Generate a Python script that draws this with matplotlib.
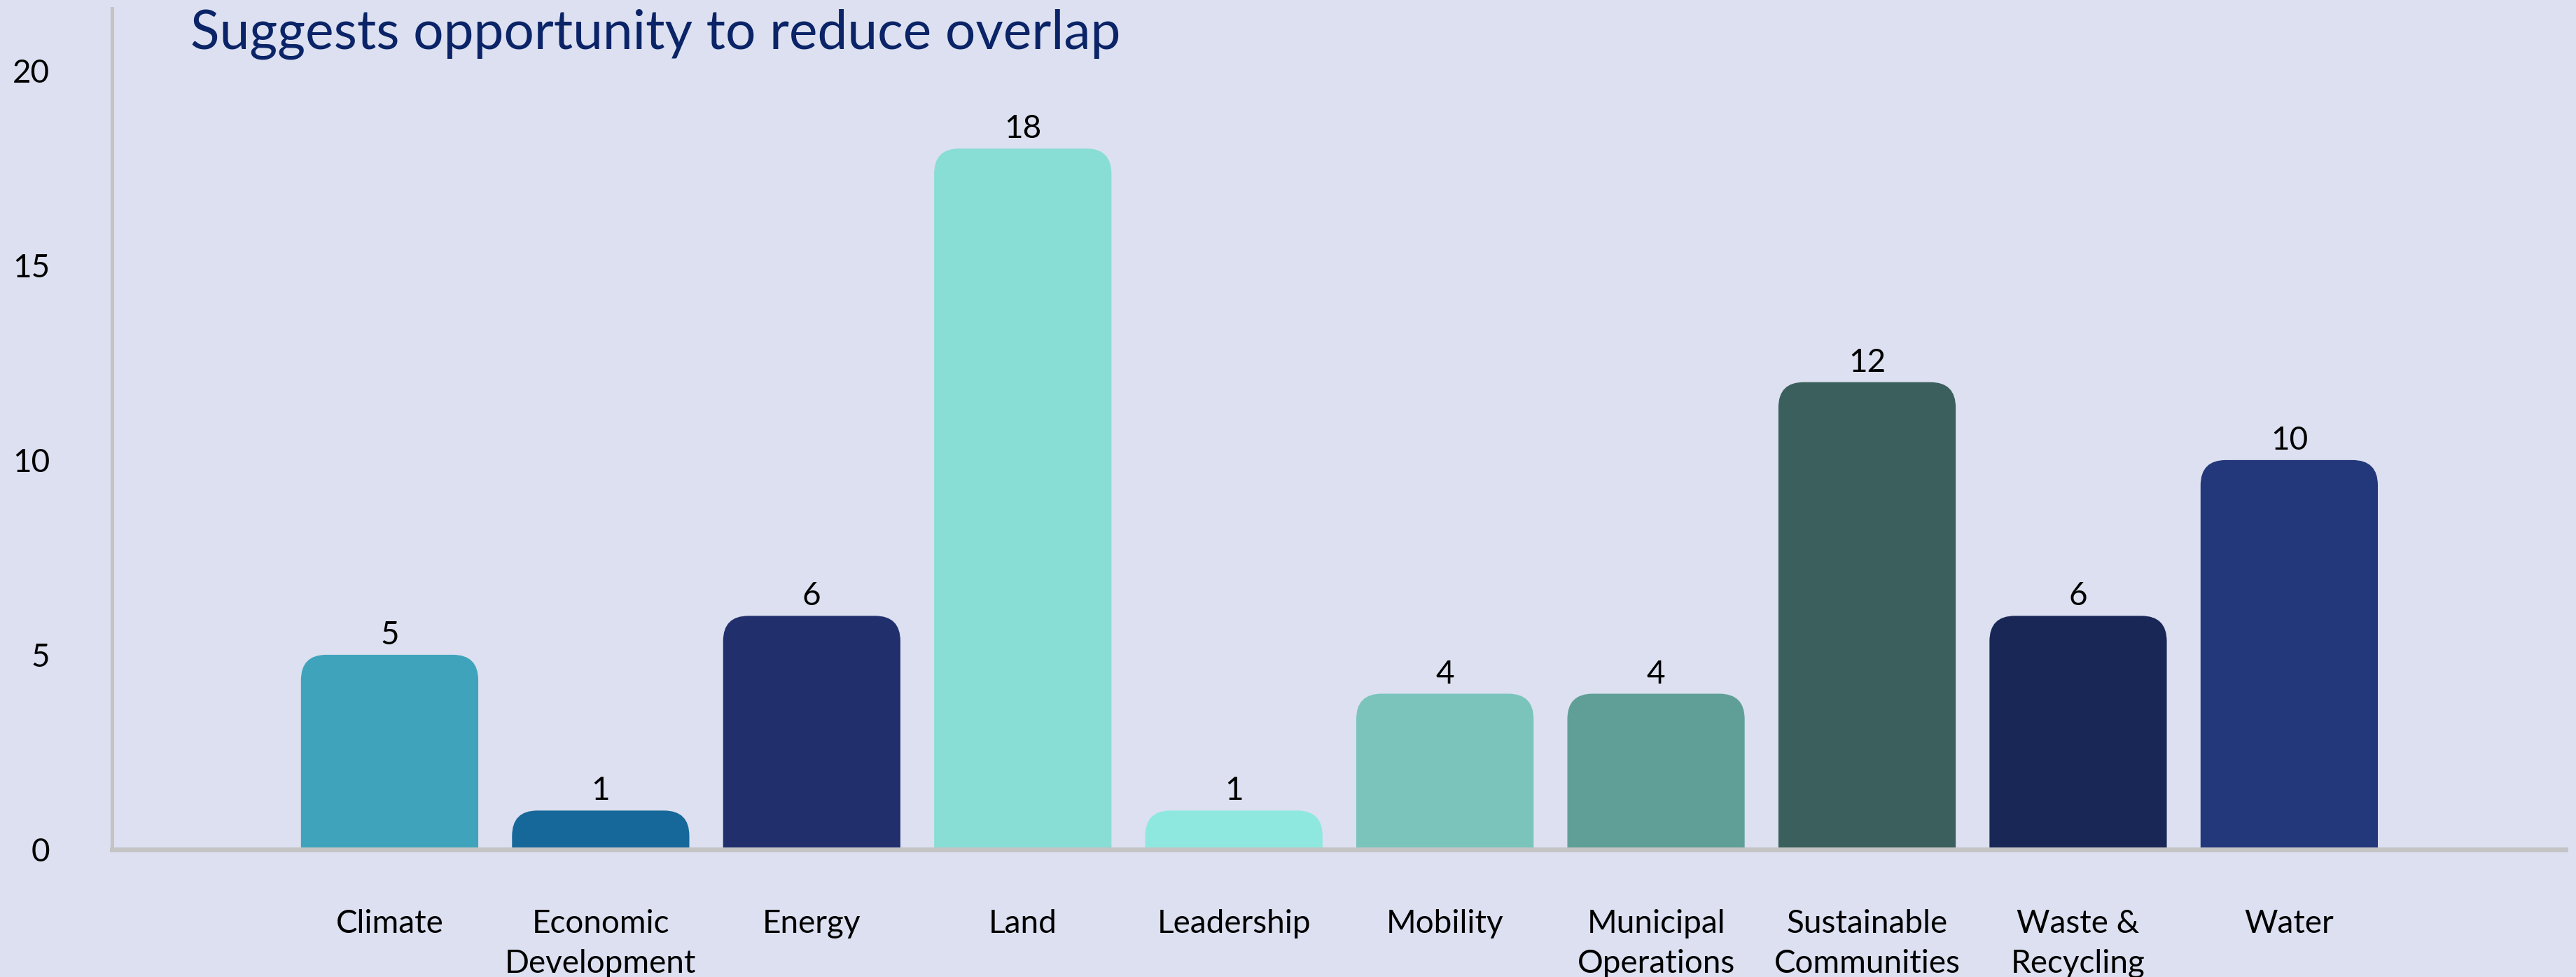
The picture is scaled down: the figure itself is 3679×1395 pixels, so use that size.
import matplotlib.pyplot as plt
from matplotlib.patches import FancyBboxPatch

categories = ['Climate', 'Economic\nDevelopment', 'Energy', 'Land', 'Leadership',
              'Mobility', 'Municipal\nOperations', 'Sustainable\nCommunities',
              'Waste &\nRecycling', 'Water']
counts = [5, 1, 6, 18, 1, 4, 4, 12, 6, 10]
bar_colors = ['#40A3BC', '#17689A', '#21306D', '#88DDD5', '#8FE8E0',
              '#7AC4BC', '#609F97', '#3A5F5C', '#182755', '#23387B']
yticks = [0, 5, 10, 15, 20]
title = 'Suggests opportunity to reduce overlap'

bg = '#DCE0F0'
plt.rcParams['font.family'] = ['Lato', 'DejaVu Sans']

fig = plt.figure(figsize=(3679 / 200, 1395 / 200), dpi=200, facecolor=bg)
ax = fig.add_axes([0.0435, 0.1305, 0.9525, 0.861])
ax.set_facecolor(bg)

ax.set_xlim(-1.315, 10.31)
ax.set_ylim(0, 21.6)

# pixel ratio between one x unit and one y unit, used to keep corners round
aspect = 128.5 / 23.7
width = 0.84
for i, (v, c) in enumerate(zip(counts, bar_colors)):
    box = FancyBboxPatch((i - width / 2, -2), width, v + 2,
                         boxstyle='round,pad=0,rounding_size=0.12',
                         mutation_aspect=aspect, facecolor=c, edgecolor='none')
    ax.add_patch(box)
    ax.annotate(str(v), (i, v), xytext=(0, 2.5), textcoords='offset points',
                ha='center', va='bottom', fontsize=16.5, color='black')

ax.set_xticks(range(len(categories)))
ax.set_xticklabels(categories, fontsize=16.5, linespacing=1.45)
ax.set_yticks(yticks)
ax.set_yticklabels([str(t) for t in yticks], fontsize=16.5)
ax.tick_params(axis='x', length=0, pad=30.5)
ax.tick_params(axis='y', length=0, pad=32)

for s in ['top', 'right']:
    ax.spines[s].set_visible(False)
ax.spines['left'].set_color('#C4C4C4')
ax.spines['left'].set_linewidth(1.8)
ax.spines['bottom'].set_color('#C4C4C4')
ax.spines['bottom'].set_linewidth(2.5)

fig.text(272 / 3679, 1 - 49 / 1395, title, fontsize=27.6, color='#0B2467',
         ha='left', va='center')

fig.savefig('out.png', dpi=200, facecolor=bg)
